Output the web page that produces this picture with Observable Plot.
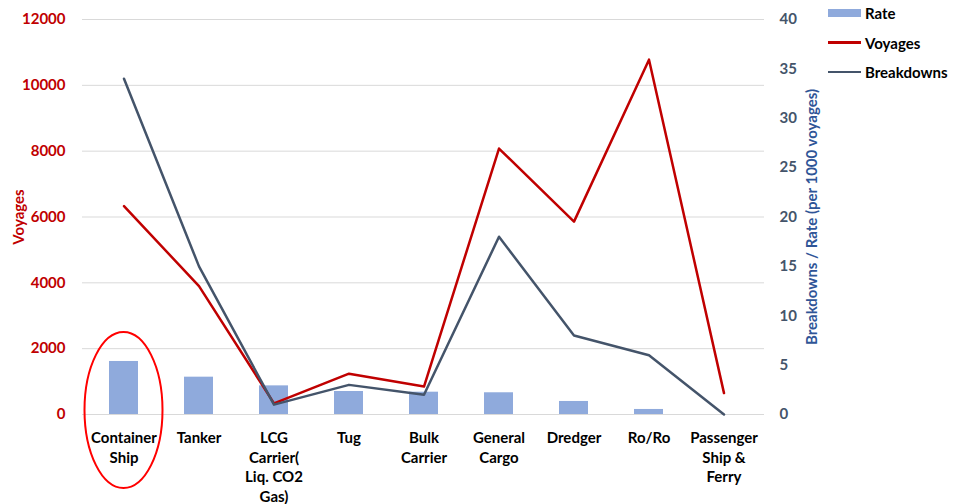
<!DOCTYPE html>
<html><head><meta charset="utf-8">
<script src="https://cdn.jsdelivr.net/npm/d3@7"></script>
<script src="https://cdn.jsdelivr.net/npm/@observablehq/plot@0.6"></script>
<style>
body{margin:0;background:#fff;font-family:Lato,"Open Sans",sans-serif;}
#wrap{position:relative;width:965px;height:504px;overflow:hidden;}
#legend{position:absolute;left:828px;top:0;font-weight:bold;font-size:15px;color:#000;}
.row{position:absolute;left:0;display:flex;align-items:center;white-space:nowrap;height:20px;}
.sw{width:33px;margin-right:4px;}
</style></head><body>
<div id="wrap"><div id="chart"></div><div id="legend"></div></div>
<script>
const categories = ["Container Ship","Tanker","LCG Carrier(Liq. CO2 Gas)","Tug","Bulk Carrier","General Cargo","Dredger","Ro/Ro","Passenger Ship & Ferry"];
const tickLabels = ["Container\nShip","Tanker","LCG\nCarrier(\nLiq. CO2\nGas)","Tug","Bulk\nCarrier","General\nCargo","Dredger","Ro/Ro","Passenger\nShip &\nFerry"];
const voyages = [6330, 3900, 340, 1240, 850, 8080, 5860, 10780, 650];
const breakdowns = [34, 15, 1, 3, 2, 18, 8, 6, 0];
const rate = [5.37, 3.78, 2.9, 2.33, 2.26, 2.2, 1.32, 0.51, 0];
const leftTicks = [0, 2000, 4000, 6000, 8000, 10000, 12000];
const rightTicks = [0, 5, 10, 15, 20, 25, 30, 35, 40];
const seriesNames = ["Rate", "Voyages", "Breakdowns"];
const seriesColors = ["#8faadc", "#c00000", "#44546a"];

const leftMax = 12000, rightMax = 40, k = leftMax / rightMax;
const data = categories.map((c, i) => ({cat: c, voyages: voyages[i], breakdowns: breakdowns[i], rate: rate[i]}));

const plot = Plot.plot({
  width: 965, height: 504,
  marginLeft: 82, marginRight: 201, marginTop: 19, marginBottom: 90,
  style: {fontFamily: "Lato, 'Open Sans', sans-serif", fontSize: "15px", fontWeight: "bold", background: "white"},
  x: {domain: categories, padding: 0, axis: null},
  y: {domain: [0, leftMax], axis: null},
  marks: [
    Plot.gridY(leftTicks, {stroke: "#d9d9d9", strokeOpacity: 1, strokeWidth: 1}),
    Plot.barY(data, {x: "cat", y: d => d.rate * k, fill: seriesColors[0], insetLeft: 23, insetRight: 23}),
    Plot.line(data, {x: "cat", y: "voyages", stroke: seriesColors[1], strokeWidth: 2.5}),
    Plot.line(data, {x: "cat", y: d => d.breakdowns * k, stroke: seriesColors[2], strokeWidth: 2.5}),
    Plot.axisY(leftTicks, {anchor: "left", tickSize: 0, tickPadding: 17, fill: "#c00000", label: null, tickFormat: d => String(d)}),
    Plot.axisY(rightTicks.map(v => v * k), {anchor: "right", tickSize: 0, tickPadding: 15, fill: "#44546a", label: null, tickFormat: d => String(Math.round(d / k))}),
    Plot.axisX(categories, {anchor: "bottom", tickSize: 0, tickPadding: 15, fill: "#000", label: null, lineHeight: 1.3, tickFormat: d => tickLabels[categories.indexOf(d)]}),
    Plot.text(["Voyages"], {frameAnchor: "left", textAnchor: "middle", rotate: -90, dx: -63, fill: "#c00000", fontWeight: "bold", fontSize: 15}),
    Plot.text(["Breakdowns / Rate (per 1000 voyages)"], {frameAnchor: "right", textAnchor: "middle", rotate: -90, dx: 48, fill: "#2f5597", fontWeight: "bold", fontSize: 15})
  ]
});
document.getElementById("chart").appendChild(plot);

// highlight ellipse around Container Ship
const xs = plot.scale("x"), ys = plot.scale("y");
d3.select(plot).append("ellipse")
  .attr("cx", xs.apply(categories[0]) + xs.bandwidth / 2)
  .attr("cy", ys.apply(0) - 4)
  .attr("rx", 39).attr("ry", 78)
  .attr("fill", "none").attr("stroke", "#ff0000").attr("stroke-width", 2);

// legend
const legend = document.getElementById("legend");
seriesNames.forEach((name, i) => {
  const row = document.createElement("div");
  row.className = "row";
  row.style.top = (3 + i * 29.5) + "px";
  const sw = document.createElement("span");
  sw.className = "sw";
  sw.style.background = seriesColors[i];
  sw.style.height = i === 0 ? "8px" : "2.5px";
  row.appendChild(sw);
  row.appendChild(document.createTextNode(name));
  legend.appendChild(row);
});
</script>
</body></html>
